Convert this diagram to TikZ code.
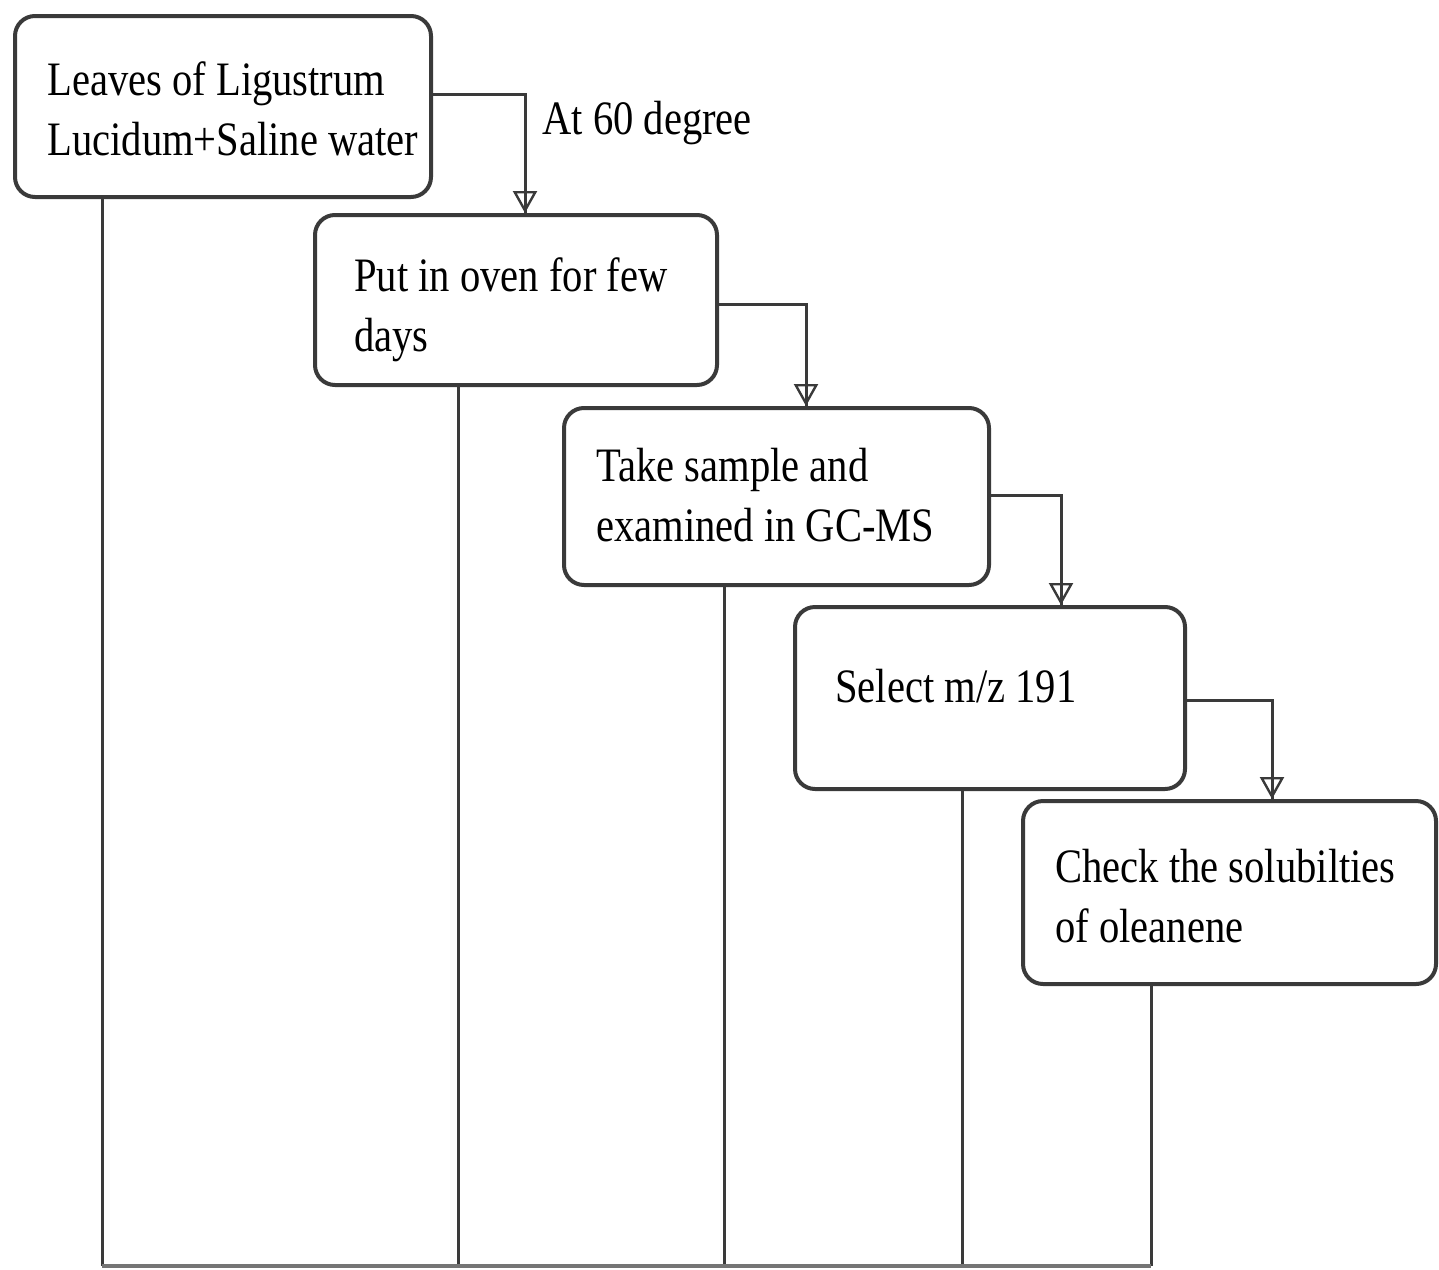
\documentclass[tikz,border=0pt]{standalone}
\usepackage{fontspec}
\setmainfont{Liberation Serif}
\newfontfamily\labfont[FakeStretch=0.845]{Liberation Serif}
\usetikzlibrary{arrows.meta}
\definecolor{ln}{HTML}{3A3A3A}
\begin{document}
\begin{tikzpicture}[x=0.5pt,y=-0.5pt,
  stepbox/.style={draw=ln, line width=2pt, rounded corners=10pt, inner sep=0pt, fill=white},
  txt/.style={anchor=north west, inner sep=0pt, align=left, font={\labfont\fontsize{24pt}{30pt}\selectfont}},
  conn/.style={draw=ln, line width=1.5pt, -{Triangle[open, width=12pt, length=11pt, line width=1.2pt]}, postaction={draw=ln, line width=1.5pt, -}},
  drop/.style={draw=ln, line width=1.5pt},
  baseline/.style={draw=ln!70, line width=2pt}]
\useasboundingbox (0,0) rectangle (1439,1269);

% boxes
\node[stepbox, minimum width=208pt, minimum height=90.5pt] (b1) at (223,106.5) {};
\node[stepbox, minimum width=201pt, minimum height=85pt] (b2) at (516,300) {};
\node[stepbox, minimum width=212.5pt, minimum height=88.5pt] (b3) at (776.5,496.5) {};
\node[stepbox, minimum width=195pt, minimum height=91pt] (b4) at (990,698) {};
\node[stepbox, minimum width=206.5pt, minimum height=91.5pt] (b5) at (1229.5,892.5) {};

% texts
\node[txt] (t1) at (47,53) {\strut Leaves of Ligustrum\\Lucidum+Saline water};
\node[txt] (t2) at (354,249) {\strut Put in oven for few\\days};
\node[txt] (t3) at (596,439) {\strut Take sample and\\examined in GC-MS};
\node[txt] (t4) at (835,660) {\strut Select m/z 191};
\node[txt] (t5) at (1055,840) {\strut Check the solubilties\\of oleanene};
\node[txt] (lab) at (542,92) {\strut At 60 degree};

% connector turning points
\coordinate (c1) at (525,94);
\coordinate (c2) at (806,304);
\coordinate (c3) at (1061,495);
\coordinate (c4) at (1272,700);

\draw[conn] (b1.east |- c1) -| (b2.north -| c1);
\draw[conn] (b2.east |- c2) -| (b3.north -| c2);
\draw[conn] (b3.east |- c3) -| (b4.north -| c3);
\draw[conn] (b4.east |- c4) -| (b5.north -| c4);

% drops to the bottom line
\coordinate (d1) at (102,1266);
\coordinate (d2) at (458,1266);
\coordinate (d3) at (724,1266);
\coordinate (d4) at (962,1266);
\coordinate (d5) at (1151,1266);

\draw[drop] (b1.south -| d1) -- (d1);
\draw[drop] (b2.south -| d2) -- (d2);
\draw[drop] (b3.south -| d3) -- (d3);
\draw[drop] (b4.south -| d4) -- (d4);
\draw[drop] (b5.south -| d5) -- (d5);
\draw[baseline] (d1) -- (d5);
\end{tikzpicture}
\end{document}
